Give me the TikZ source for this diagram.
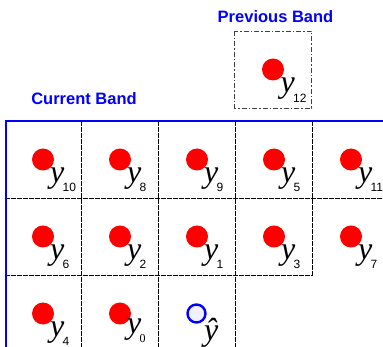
\documentclass[tikz,border=0pt]{standalone}
\usepackage{fontspec}
\setmainfont{Liberation Serif}
\setsansfont{Liberation Sans}
\newcommand\ysub[1]{y\kern-1.7pt\raisebox{-9.5pt}{\fontsize{12}{12}\selectfont\sffamily\upshape #1}}
\begin{document}
\begin{tikzpicture}[x=1pt,y=-1pt,
  reddot/.style={circle,fill=red,draw=none,minimum size=22pt,inner sep=0pt},
  estdot/.style={circle,fill=blue!6,draw=blue,line width=2.4pt,minimum size=18pt,inner sep=0pt},
  ylab/.style={anchor=base west,inner sep=0pt,font=\fontsize{32}{32}\selectfont\itshape},
  bandlab/.style={inner sep=0pt,text=blue,font=\fontsize{16.5}{16.5}\selectfont\sffamily\bfseries},
  gridline/.style={black,line width=0.8pt,dash pattern=on 5pt off 1pt},
  prevbox/.style={black!75,line width=0.8pt,dash pattern=on 5pt off 2pt on 1.5pt off 2pt},
  bandframe/.style={blue,line width=2pt}]
\useasboundingbox (0,0) rectangle (383,347);

% labels
\node[bandlab] (prevlab) at (275.5,16.5) {Previous Band};
\node[bandlab] (curlab) at (84,98.5) {Current Band};

% previous band box
\draw[prevbox] (234.5,31) rectangle (311.5,108);
\node[reddot] (d12) at (273,69.5) {};
\node[ylab] (l12) at (280.5,93) {\ysub{12}};

% grid lines
\draw[gridline] (4.5,198) -- (383,198);
\draw[gridline] (4.5,275) -- (312.5,275);
\draw[gridline] (81.5,121) -- (81.5,347);
\draw[gridline] (158.5,121) -- (158.5,347);
\draw[gridline] (235.5,121) -- (235.5,347);
\draw[gridline] (312.5,121) -- (312.5,275);

% cells
\foreach \c/\r/\s in {0/0/10,1/0/8,2/0/9,3/0/5,4/0/11,
                      0/1/6,1/1/2,2/1/1,3/1/3,4/1/7,
                      0/2/4}{
  \node[reddot] (d\s) at (43+77*\c,159.5+77*\r) {};
  \node[ylab] (l\s) at (50+77*\c,182.5+77*\r) {\ysub{\s}};
}
\node[reddot] (d0) at (120,313.5) {};
\node[ylab] (l0) at (127,334) {y\kern-1.7pt\raisebox{-8.5pt}{\fontsize{12}{12}\selectfont\rmfamily\upshape 0}};

% estimate
\node[estdot] (est) at (196.5,313.5) {};
\node[ylab] (lest) at (204,341) {ŷ};

% band frame
\draw[bandframe] (383,121) -- (5.5,121) -- (5.5,347);
\end{tikzpicture}
\end{document}
